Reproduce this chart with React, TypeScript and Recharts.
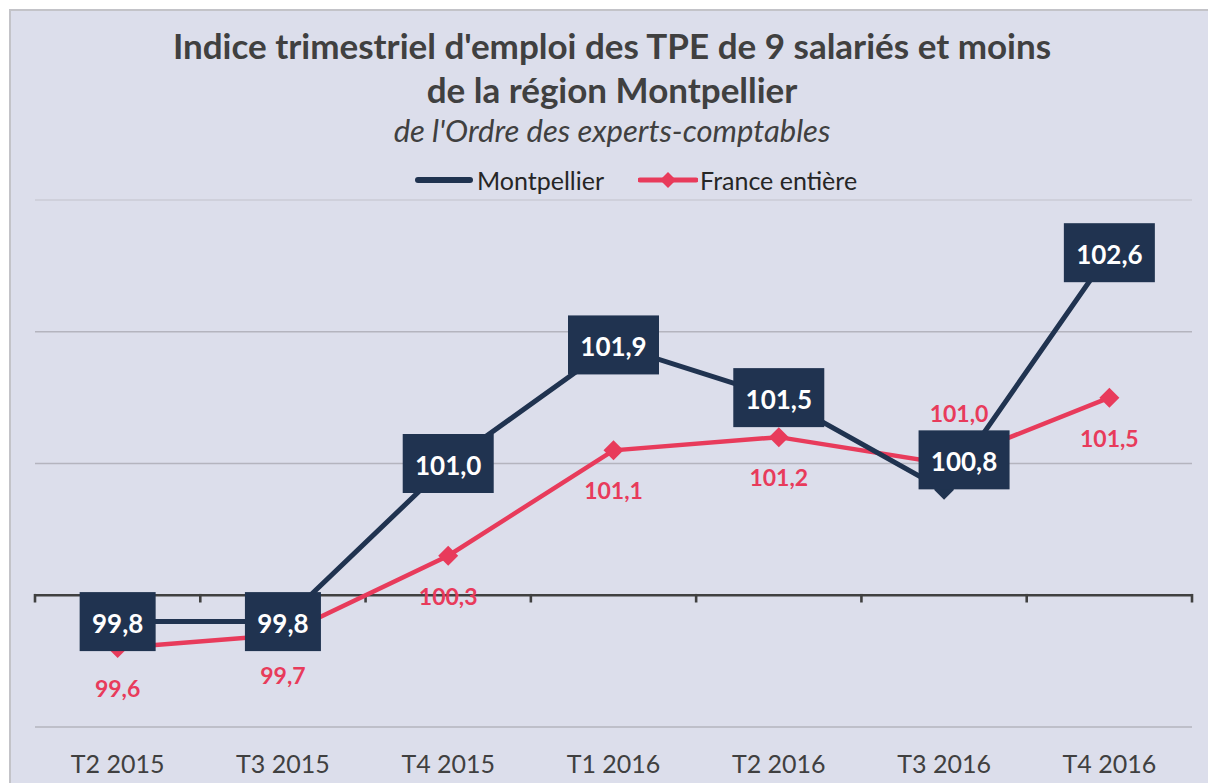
import React from 'react';
import { LineChart, Line, XAxis, YAxis, ReferenceLine, LabelList } from 'recharts';

const categories = ['T2 2015', 'T3 2015', 'T4 2015', 'T1 2016', 'T2 2016', 'T3 2016', 'T4 2016'];
const montpellier = [99.8, 99.8, 101.0, 101.9, 101.5, 100.8, 102.6];
const france = [99.6, 99.7, 100.3, 101.1, 101.2, 101.0, 101.5];
const gridValues = [99, 101, 102, 103];
const axisValue = 100;
const categoryIndex = categories.map((_, i) => i);
const boundaries = [-0.5, 0.5, 1.5, 2.5, 3.5, 4.5, 5.5, 6.5];

const data = categories.map((cat, i) => ({ i, cat, montpellier: montpellier[i], france: france[i] }));

const NAVY = '#203350';
const RED = '#e83b5b';
const TEXT = '#404040';
const BG = '#dcdeeb';
const FONT = 'Lato, "Open Sans", sans-serif';

// label placement adjustments (style only)
const navyOffset: Record<number, [number, number]> = { 5: [20, -30] };
const redOffset: Record<number, [number, number]> = { 5: [15, -51] };

const fmt = (v: number) => v.toFixed(1).replace('.', ',');

const Diamond = (color: string, r: number) => (props: any) => {
  const { cx, cy } = props;
  if (cx == null || cy == null) return null;
  return (
    <polygon
      points={`${cx},${cy - r} ${cx + r},${cy} ${cx},${cy + r} ${cx - r},${cy}`}
      fill={color}
    />
  );
};

const NavyLabel = (props: any) => {
  const { x, y, value, index } = props;
  const [dx, dy] = navyOffset[index] || [0, 0];
  const text = fmt(Number(value));
  const w = 16 + 15 * text.length;
  const h = 59;
  const cx = x + dx;
  const cy = y + dy;
  return (
    <g>
      <rect x={cx - w / 2} y={cy - h / 2} width={w} height={h} fill={NAVY} />
      <text
        x={cx}
        y={cy + 1}
        textAnchor="middle"
        dominantBaseline="central"
        fill="#ffffff"
        fontSize={26}
        fontWeight={700}
        fontFamily={FONT}
      >
        {text}
      </text>
    </g>
  );
};

const RedLabel = (props: any) => {
  const { x, y, value, index } = props;
  const [dx, dy] = redOffset[index] || [0, 40];
  return (
    <text
      x={x + dx}
      y={y + dy}
      textAnchor="middle"
      dominantBaseline="central"
      fill={RED}
      fontSize={23}
      fontWeight={700}
      fontFamily={FONT}
    >
      {fmt(Number(value))}
    </text>
  );
};

export default function App() {
  return (
    <div style={{ position: 'fixed', left: 0, top: 0, width: 1208, height: 783, background: '#ffffff', overflow: 'hidden', fontFamily: FONT }}>
      <div
        style={{
          position: 'absolute',
          left: 9,
          top: 9,
          right: 0,
          bottom: 0,
          background: BG,
          borderTop: '2px solid #c3c3c8',
          borderLeft: '2px solid #c3c3c8',
        }}
      />
      <div style={{ position: 'absolute', left: 0, top: 23, width: 1224, textAlign: 'center', color: TEXT, fontSize: 35, fontWeight: 700, lineHeight: '44px' }}>
        Indice trimestriel d'emploi des TPE de 9 salariés et moins
      </div>
      <div style={{ position: 'absolute', left: 0, top: 67, width: 1224, textAlign: 'center', color: TEXT, fontSize: 35, fontWeight: 700, lineHeight: '44px' }}>
        de la région Montpellier
      </div>
      <div style={{ position: 'absolute', left: 0, top: 111, width: 1224, textAlign: 'center', color: TEXT, fontSize: 31, fontStyle: 'italic', lineHeight: '38px' }}>
        de l'Ordre des experts-comptables
      </div>
      <div style={{ position: 'absolute', left: 415, top: 162, height: 36, display: 'flex', alignItems: 'center', color: '#262626', fontSize: 25 }}>
        <svg width={58} height={20} style={{ marginRight: 4 }}>
          <line x1={3} y1={10} x2={55} y2={10} stroke={NAVY} strokeWidth={6} strokeLinecap="round" />
        </svg>
        <span>Montpellier</span>
        <svg width={60} height={20} style={{ marginLeft: 34, marginRight: 2 }}>
          <line x1={2} y1={10} x2={58} y2={10} stroke={RED} strokeWidth={5} strokeLinecap="round" />
          <polygon points="30,2 38,10 30,18 22,10" fill={RED} />
        </svg>
        <span>France entière</span>
      </div>
      <div style={{ position: 'absolute', left: 0, top: 0 }}>
        <LineChart width={1208} height={783} data={data} margin={{ top: 200, right: 16, bottom: 0, left: 35 }}>
          <XAxis
            dataKey="i"
            type="number"
            domain={[-0.5, 6.5]}
            ticks={categoryIndex}
            tickFormatter={(v: number) => categories[v] ?? ''}
            interval={0}
            axisLine={false}
            tickLine={false}
            tickSize={6}
            tickMargin={22}
            height={56}
            allowDataOverflow
            tick={{ fontSize: 25, fill: TEXT, fontFamily: FONT }}
          />
          <YAxis type="number" domain={[99, 103]} hide allowDataOverflow />
          {gridValues.map((v) => (
            <ReferenceLine key={'g' + v} y={v} stroke={v === 103 ? '#cbcbd6' : '#b4b4be'} strokeWidth={1.3} />
          ))}
          <ReferenceLine
            segment={[
              { x: -0.5, y: axisValue },
              { x: 6.5, y: axisValue },
            ]}
            stroke={TEXT}
            strokeWidth={2.6}
          />
          {boundaries.map((b) => (
            <ReferenceLine
              key={'t' + b}
              segment={[
                { x: b, y: axisValue + 0.01 },
                { x: b, y: axisValue - 0.055 },
              ]}
              stroke={TEXT}
              strokeWidth={2.6}
              ifOverflow="visible"
            />
          ))}
          <Line
            dataKey="france"
            stroke={RED}
            strokeWidth={4.5}
            dot={Diamond(RED, 10)}
            activeDot={false}
            isAnimationActive={false}
          >
            <LabelList dataKey="france" content={RedLabel} />
          </Line>
          <Line
            dataKey="montpellier"
            stroke={NAVY}
            strokeWidth={5}
            dot={Diamond(NAVY, 10)}
            activeDot={false}
            isAnimationActive={false}
          >
            <LabelList dataKey="montpellier" content={NavyLabel} />
          </Line>
        </LineChart>
      </div>
    </div>
  );
}
